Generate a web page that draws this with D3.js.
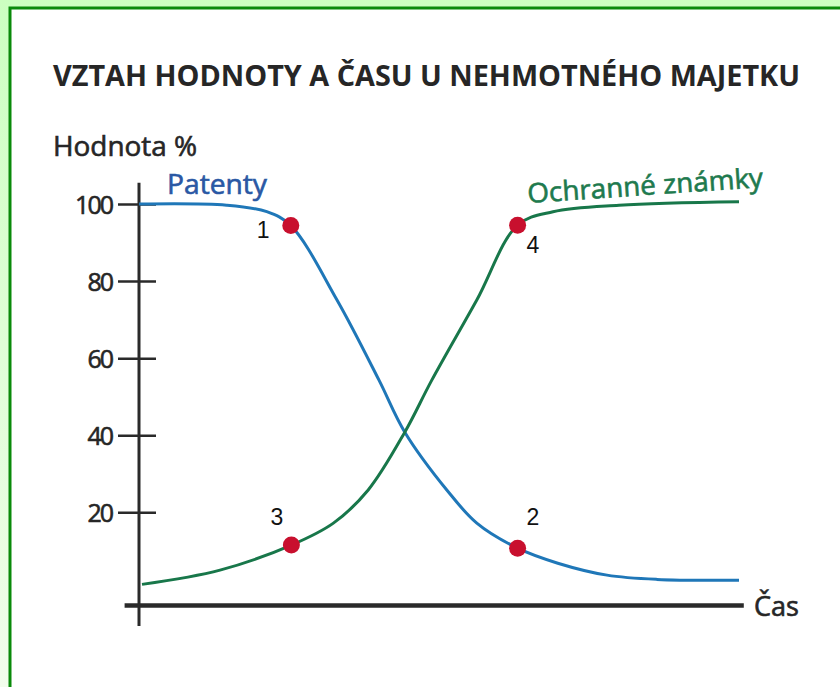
<!DOCTYPE html>
<html>
<head>
<meta charset="utf-8">
<script src="https://cdn.jsdelivr.net/npm/d3@7"></script>
<style>
  body { margin: 0; background: #fff; }
  svg { display: block; }
</style>
</head>
<body>
<script>
// size of the page
let width = 840, height = 687

// texts
const title = "VZTAH HODNOTY A ČASU U NEHMOTNÉHO MAJETKU"
const yLabel = "Hodnota %"
const xLabel = "Čas"
const yTicks = [20, 40, 60, 80, 100]

// Patenty curve: time (0-100) -> value %
const patentyT = [0, 14.6, 21.3, 25.3, 33, 40, 44.3, 51.3, 56.3, 63.1, 69.8, 78, 86.3, 100]
const patentyV = [100, 99.7, 98, 94.4, 75.1, 54.3, 40.8, 25.8, 17.2, 10.7, 6.8, 3.7, 2.6, 2.4]

// Ochranné známky curve
const znamkyT = [0.5, 13.5, 25.4, 32.4, 38.2, 44.3, 48.8, 56.3, 63.1, 69, 80, 100]
const znamkyV = [1.3, 5.0, 11.5, 17.2, 25.8, 40.8, 54.3, 75.1, 94.5, 98, 99.7, 100.6]

// the four red points
const pointLabels = ["1", "2", "3", "4"]
const pointT = [25.3, 63.1, 25.4, 63.1]
const pointV = [94.4, 10.7, 11.5, 94.5]

// scales (time axis has no ticks)
let x = d3.scaleLinear().domain([0, 100]).range([139, 739])
let y = d3.scaleLinear().domain([0, 100]).range([589.4, 204])

let svg = d3.select("body").append("svg")
    .attr("width", width)
    .attr("height", height)

// page background + frame
let defs = svg.append("defs")
let grad = defs.append("linearGradient").attr("id", "bg").attr("x1", 0).attr("y1", 0).attr("x2", 0).attr("y2", 1)
grad.append("stop").attr("offset", "0%").attr("stop-color", "#ccffc0")
grad.append("stop").attr("offset", "100%").attr("stop-color", "#f2fdec")
svg.append("rect").attr("width", width).attr("height", height).attr("fill", "url(#bg)")
svg.append("rect")
    .attr("x", 10).attr("y", 8)
    .attr("width", width + 20).attr("height", height + 20)
    .attr("fill", "#fff")
    .attr("stroke", "#0a8a0a")
    .attr("stroke-width", 3)

const labelFont = "'Open Sans', 'Noto Sans', sans-serif"

// small helper: labels look a bit heavier in the original, so add a thin outline
function heavy(sel, color) {
    return sel.attr("fill", color).attr("stroke", color).attr("stroke-width", 0.6)
}

// title
svg.append("text")
    .attr("x", 53).attr("y", 86)
    .attr("font-family", labelFont)
    .attr("font-weight", 700)
    .attr("font-size", 28)
    .attr("fill", "#262626")
    .attr("textLength", 747)
    .attr("lengthAdjust", "spacingAndGlyphs")
    .text(title)

// y axis label
svg.append("text")
    .attr("x", 53).attr("y", 156)
    .attr("font-family", labelFont)
    .attr("font-size", 27)
    .attr("textLength", 144)
    .attr("lengthAdjust", "spacingAndGlyphs")
    .call(heavy, "#262626")
    .text(yLabel)

// y axis with ticks crossing the line
let yAxis = svg.append("g")
    .attr("transform", `translate(${x(0)},0)`)
    .call(d3.axisLeft(y).tickValues(yTicks).tickSize(21).tickPadding(6))
yAxis.select(".domain").remove()
yAxis.selectAll(".tick line")
    .attr("x1", 17)
    .attr("stroke", "#2a2a2a")
    .attr("stroke-width", 2.5)
yAxis.selectAll(".tick text")
    .attr("font-family", labelFont)
    .attr("font-size", 25)
    .attr("letter-spacing", -2)
    .attr("dy", "0.36em")
    .call(heavy, "#262626")

// vertical axis line
svg.append("line")
    .attr("x1", x(0)).attr("x2", x(0))
    .attr("y1", y(105.5)).attr("y2", y(-9.5))
    .attr("stroke", "#2a2a2a")
    .attr("stroke-width", 3)

// horizontal axis line
svg.append("line")
    .attr("x1", x(-2.4)).attr("x2", x(100.8))
    .attr("y1", y(-4.2)).attr("y2", y(-4.2))
    .attr("stroke", "#2a2a2a")
    .attr("stroke-width", 4.5)

svg.append("text")
    .attr("x", x(102.5)).attr("y", y(-4.2) + 10)
    .attr("font-family", labelFont)
    .attr("font-size", 27)
    .attr("textLength", 45)
    .attr("lengthAdjust", "spacingAndGlyphs")
    .call(heavy, "#262626")
    .text(xLabel)

// curves
let line = d3.line()
    .x(d => x(d[0]))
    .y(d => y(d[1]))
    .curve(d3.curveCatmullRom.alpha(0.5))

let series = [
    { name: "Patenty", pts: d3.zip(patentyT, patentyV), color: "#1f77b8" },
    { name: "Ochranné známky", pts: d3.zip(znamkyT, znamkyV), color: "#18774a" }
]

svg.append("g")
    .selectAll("path")
    .data(series)
    .join("path")
    .attr("d", d => line(d.pts))
    .attr("fill", "none")
    .attr("stroke", d => d.color)
    .attr("stroke-width", 3)

// curve names
svg.append("text")
    .attr("x", 167).attr("y", 194)
    .attr("font-family", labelFont)
    .attr("font-size", 27)
    .attr("textLength", 100)
    .attr("lengthAdjust", "spacingAndGlyphs")
    .call(heavy, "#2a58a4")
    .text(series[0].name)

svg.append("text")
    .attr("transform", "translate(528,203) rotate(-3.9)")
    .attr("font-family", labelFont)
    .attr("font-size", 27)
    .attr("textLength", 236)
    .attr("lengthAdjust", "spacingAndGlyphs")
    .call(heavy, "#1e7a4e")
    .text(series[1].name)

// red points with numbers
let points = d3.range(pointLabels.length).map(i => ({ label: pointLabels[i], t: pointT[i], v: pointV[i] }))
// label offsets from the point (dx to left edge, dy to baseline)
let offsets = { "1": [-34, 12], "2": [9, -23], "3": [-21, -20], "4": [9, 28] }

svg.append("g")
    .selectAll("circle")
    .data(points)
    .join("circle")
    .attr("cx", d => x(d.t))
    .attr("cy", d => y(d.v))
    .attr("r", 8.5)
    .attr("fill", "#c8102e")

svg.append("g")
    .selectAll("text")
    .data(points)
    .join("text")
    .attr("x", d => x(d.t) + offsets[d.label][0])
    .attr("y", d => y(d.v) + offsets[d.label][1])
    .attr("font-family", "'Liberation Sans', Arial, sans-serif")
    .attr("font-size", 23)
    .attr("fill", "#111")
    .text(d => d.label)
</script>
</body>
</html>
